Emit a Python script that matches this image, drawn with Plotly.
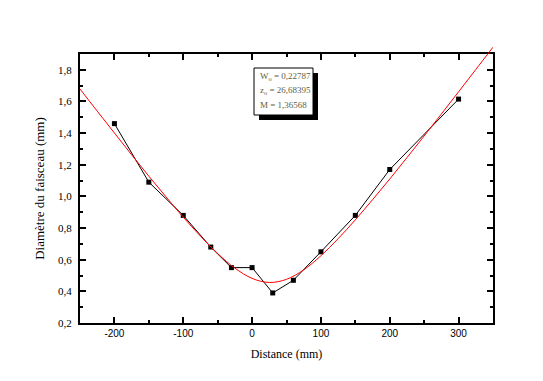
import plotly.graph_objects as go

# Measured beam diameter (mm) vs distance (mm)
distance = [-200, -150, -100, -60, -30, 0, 30, 60, 100, 150, 200, 300]
diametre = [1.46, 1.09, 0.88, 0.68, 0.55, 0.55, 0.39, 0.47, 0.65, 0.88, 1.17, 1.615]

# Red fitted curve
fit_z = [-250, -225, -200, -175, -150, -125, -100, -75, -50, -25, 0, 25, 50, 75,
         100, 125, 150, 175, 200, 225, 250, 275, 300, 325, 350]
fit_d = [1.679, 1.539, 1.401, 1.263, 1.128, 0.997, 0.869, 0.749, 0.639, 0.547, 0.482,
         0.456, 0.476, 0.536, 0.625, 0.733, 0.852, 0.979, 1.110, 1.245, 1.382, 1.521,
         1.661, 1.802, 1.943]

x_ticks = [-200, -100, 0, 100, 200, 300]
x_tick_labels = ["-200", "-100", "0", "100", "200", "300"]
y_ticks = [0.2, 0.4, 0.6, 0.8, 1.0, 1.2, 1.4, 1.6, 1.8]
y_tick_labels = ["0,2", "0,4", "0,6", "0,8", "1,0", "1,2", "1,4", "1,6", "1,8"]

fit_params = ["W<sub>o</sub> = 0,22787", "z<sub>o</sub> = 26,68395", "M = 1,36568"]

# the page body adds an 8px offset; figure coordinates below are screen - 8
OFF = 8
W, H = 543 - OFF, 381 - OFF
L, R, T, B = 80 - OFF, 50, 44 - OFF, 58
plot_w = W - L - R
plot_h = H - T - B
main_top_px = 54 - OFF
main_dom_top = (H - B - main_top_px) / plot_h
y_lo, y_hi = 0.2, 1.9
px_per_unit = (H - B - main_top_px) / (y_hi - y_lo)
y2_hi = y_lo + plot_h / px_per_unit

serif = "Liberation Serif, Times New Roman, serif"
sans = "Liberation Sans, Arial, sans-serif"

fig = go.Figure()
fig.add_trace(go.Scatter(
    x=distance, y=diametre, mode="lines+markers",
    line=dict(color="black", width=1),
    marker=dict(symbol="square", size=5, color="black"),
    xaxis="x", yaxis="y", showlegend=False))
fig.add_trace(go.Scatter(
    x=fit_z, y=fit_d, mode="lines",
    line=dict(color="red", width=1, shape="spline"),
    xaxis="x2", yaxis="y2", showlegend=False))

axis_common = dict(
    showgrid=False, zeroline=False, showline=True, linecolor="black", linewidth=2,
    ticks="inside", ticklen=6, tickwidth=2, tickcolor="black", mirror="allticks",
    automargin=False,
)

fig.update_layout(
    width=W, height=H,
    margin=dict(l=L, r=R, t=T, b=B, pad=0, autoexpand=False),
    paper_bgcolor="white", plot_bgcolor="rgba(0,0,0,0)",
    separators=", ",
    xaxis=dict(
        domain=[0, 1], range=[-250, 350], anchor="y",
        tickmode="array", tickvals=x_ticks, ticktext=x_tick_labels,
        tickfont=dict(family=sans, size=10, color="black"),
        minor=dict(tickmode="linear", tick0=0, dtick=50, ticks="inside", ticklen=3,
                   tickwidth=2, tickcolor="black"),
        title=dict(text="Distance (mm)", font=dict(family=serif, size=12, color="black"),
                   standoff=12),
        **axis_common),
    yaxis=dict(
        domain=[0, main_dom_top], range=[y_lo, y_hi], anchor="x",
        tickmode="array", tickvals=y_ticks, ticktext=y_tick_labels,
        tickfont=dict(family=serif, size=11, color="black"),
        ticklabelstandoff=4,
        minor=dict(tickmode="linear", tick0=0, dtick=0.1, ticks="inside", ticklen=3,
                   tickwidth=2, tickcolor="black"),
        title=dict(text="Diamètre du faisceau (mm)", font=dict(family=serif, size=13, color="black"),
                   standoff=10),
        **axis_common),
    xaxis2=dict(domain=[0, 1], range=[-250, 350], anchor="y2", visible=False),
    yaxis2=dict(domain=[0, 1], range=[y_lo, y2_hi], anchor="x2", visible=False),
)

def px_x(p):
    return (p - OFF - L) / plot_w

def px_y(p):
    return (H - B - (p - OFF)) / plot_h

# shadow + box of fit parameters (screen pixel positions)
fig.add_shape(type="rect", xref="paper", yref="paper",
              x0=px_x(259), x1=px_x(318), y0=px_y(120), y1=px_y(73),
              fillcolor="black", line=dict(width=0))
fig.add_shape(type="rect", xref="paper", yref="paper",
              x0=px_x(254), x1=px_x(313), y0=px_y(115), y1=px_y(68),
              fillcolor="white", line=dict(color="black", width=1))
for i, txt in enumerate(fit_params):
    fig.add_annotation(xref="paper", yref="paper", x=px_x(258), y=px_y(76.5 + 14 * i),
                       xanchor="left", yanchor="middle", showarrow=False, text=txt,
                       font=dict(family=serif, size=9, color="#5f5f45"))

fig.write_html("out.html")
